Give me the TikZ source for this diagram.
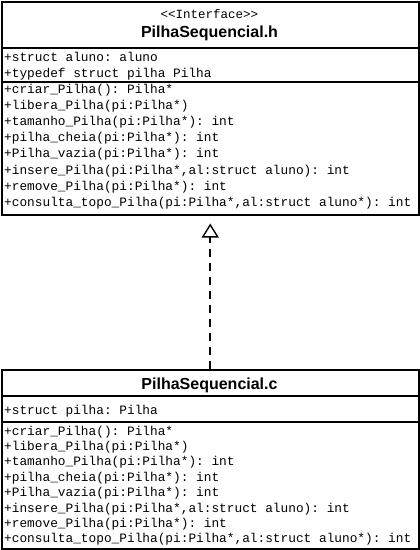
\documentclass[tikz,border=0pt]{standalone}
\usepackage{fontspec}
\setmainfont{Liberation Sans}
\setmonofont{Liberation Mono}
\usetikzlibrary{arrows.meta}
\begin{document}
\begin{tikzpicture}[x=1pt,y=-1pt,
 box/.style={draw, line width=1.5pt, anchor=north west, inner sep=0pt, minimum width=417pt},
 sep/.style={line width=1.5pt},
 mem/.style={anchor=base west, inner sep=0pt, font=\fontsize{12.8}{14}\ttfamily},
 stereo/.style={anchor=base, inner sep=0pt, font=\fontsize{12.5}{14}\ttfamily},
 ttl/.style={anchor=base, inner sep=0pt, font=\fontsize{16}{18}\bfseries},
 realize/.style={line width=1.6pt, dash pattern=on 8pt off 6pt, shorten >=8pt,
   -{Triangle[open, length=14pt, width=17pt, line width=1.4pt]}},
]
\useasboundingbox (0,0) rectangle (420,550);
% top box
\node[box, minimum height=213pt] (hbox) at (1,1) {};
\draw[sep] (1,48) coordinate (h1l) -- (418,48) coordinate (h1r);
\draw[sep] (1,82) coordinate (h2l) -- (418,82) coordinate (h2r);
\node[stereo] (hst) at (209.5,18) {<{}<Interface>{}>};
\node[ttl] (htl) at (209.5,37) {PilhaSequencial.h};
\node[mem] (ha1) at (4,61) {+struct aluno: aluno};
\node[mem] (ha2) at (4,77) {+typedef struct pilha Pilha};
\foreach \t [count=\i from 0] in {
 {+criar\_Pilha(): Pilha*},
 {+libera\_Pilha(pi:Pilha*)},
 {+tamanho\_Pilha(pi:Pilha*): int},
 {+pilha\_cheia(pi:Pilha*): int},
 {+Pilha\_vazia(pi:Pilha*): int},
 {+insere\_Pilha(pi:Pilha*,al:struct aluno): int},
 {+remove\_Pilha(pi:Pilha*): int},
 {+consulta\_topo\_Pilha(pi:Pilha*,al:struct aluno*): int}}
 \node[mem] (hm\i) at (4,{93+16.2*\i}) {\t};
% bottom box
\node[box, minimum height=179pt] (cbox) at (1,369) {};
\draw[sep] (1,396) coordinate (c1l) -- (418,396) coordinate (c1r);
\draw[sep] (1,422) coordinate (c2l) -- (418,422) coordinate (c2r);
\node[ttl] (ctl) at (209.5,389) {PilhaSequencial.c};
\node[mem] (ca1) at (4,414) {+struct pilha: Pilha};
\foreach \t [count=\i from 0] in {
 {+criar\_Pilha(): Pilha*},
 {+libera\_Pilha(pi:Pilha*)},
 {+tamanho\_Pilha(pi:Pilha*): int},
 {+pilha\_cheia(pi:Pilha*): int},
 {+Pilha\_vazia(pi:Pilha*): int},
 {+insere\_Pilha(pi:Pilha*,al:struct aluno): int},
 {+remove\_Pilha(pi:Pilha*): int},
 {+consulta\_topo\_Pilha(pi:Pilha*,al:struct aluno*): int}}
 \node[mem] (cm\i) at (4,{435+15.4*\i}) {\t};
% realization
\draw[realize] (cbox.north) -- (hbox.south);
\end{tikzpicture}
\end{document}
